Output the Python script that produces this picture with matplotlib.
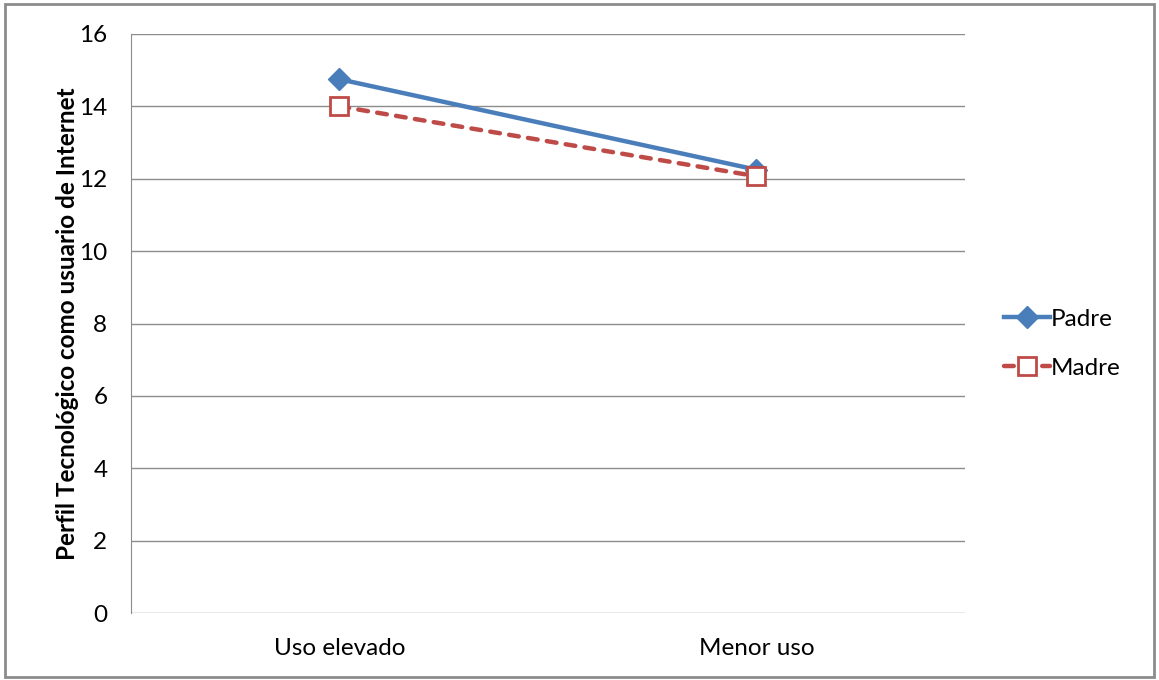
import matplotlib.pyplot as plt
from matplotlib.patches import Rectangle

categories = ['Uso elevado', 'Menor uso']
padre = [14.75, 12.25]
madre = [14.0, 12.07]
yticks = [0, 2, 4, 6, 8, 10, 12, 14, 16]

blue = '#4A7EBB'
red = '#BE4B48'

plt.rcParams['font.family'] = ['Lato', 'DejaVu Sans']

fig = plt.figure(figsize=(11.59, 6.8), dpi=100)
ax = fig.add_axes([0.113, 0.0985, 0.7196, 0.8515])

xpos = [i + 0.5 for i in range(len(categories))]

ax.plot(xpos, padre, color=blue, lw=3.2, marker='D', markersize=11,
        markerfacecolor=blue, markeredgecolor=blue, label='Padre', zorder=3)
ax.plot(xpos, madre, color=red, lw=3.2, ls=(0, (2.2, 2.1)), dash_capstyle='round',
        marker='s', markersize=13, markerfacecolor='white', markeredgecolor=red,
        markeredgewidth=2, label='Madre', zorder=4)

ax.set_xlim(0, 2)
ax.set_ylim(0, 16)
ax.set_yticks(yticks)
ax.set_xticks(xpos)
ax.set_xticklabels(categories)
ax.tick_params(axis='both', length=0, labelsize=17.5, colors='black')
ax.tick_params(axis='y', pad=17)
ax.tick_params(axis='x', pad=18)

ax.grid(axis='y', color='#8C8C8C', lw=1)
ax.set_axisbelow(True)
for s in ['top', 'right', 'bottom']:
    ax.spines[s].set_visible(False)
ax.spines['left'].set_color('#8C8C8C')

ax.set_ylabel('Perfil Tecnológico como usuario de Internet', fontsize=17.5,
              fontweight='bold', labelpad=0)

ax.legend(loc='center left', bbox_to_anchor=(1.02, 0.465), frameon=False,
          fontsize=17.5, handlelength=1.9, labelspacing=1.15, handletextpad=0.05)

# outer chart border
fig.patches.append(Rectangle((0.004, 0.004), 0.992, 0.99, transform=fig.transFigure,
                             fill=False, edgecolor='#8C8C8C', lw=2))

fig.savefig('out.png', dpi=100)
